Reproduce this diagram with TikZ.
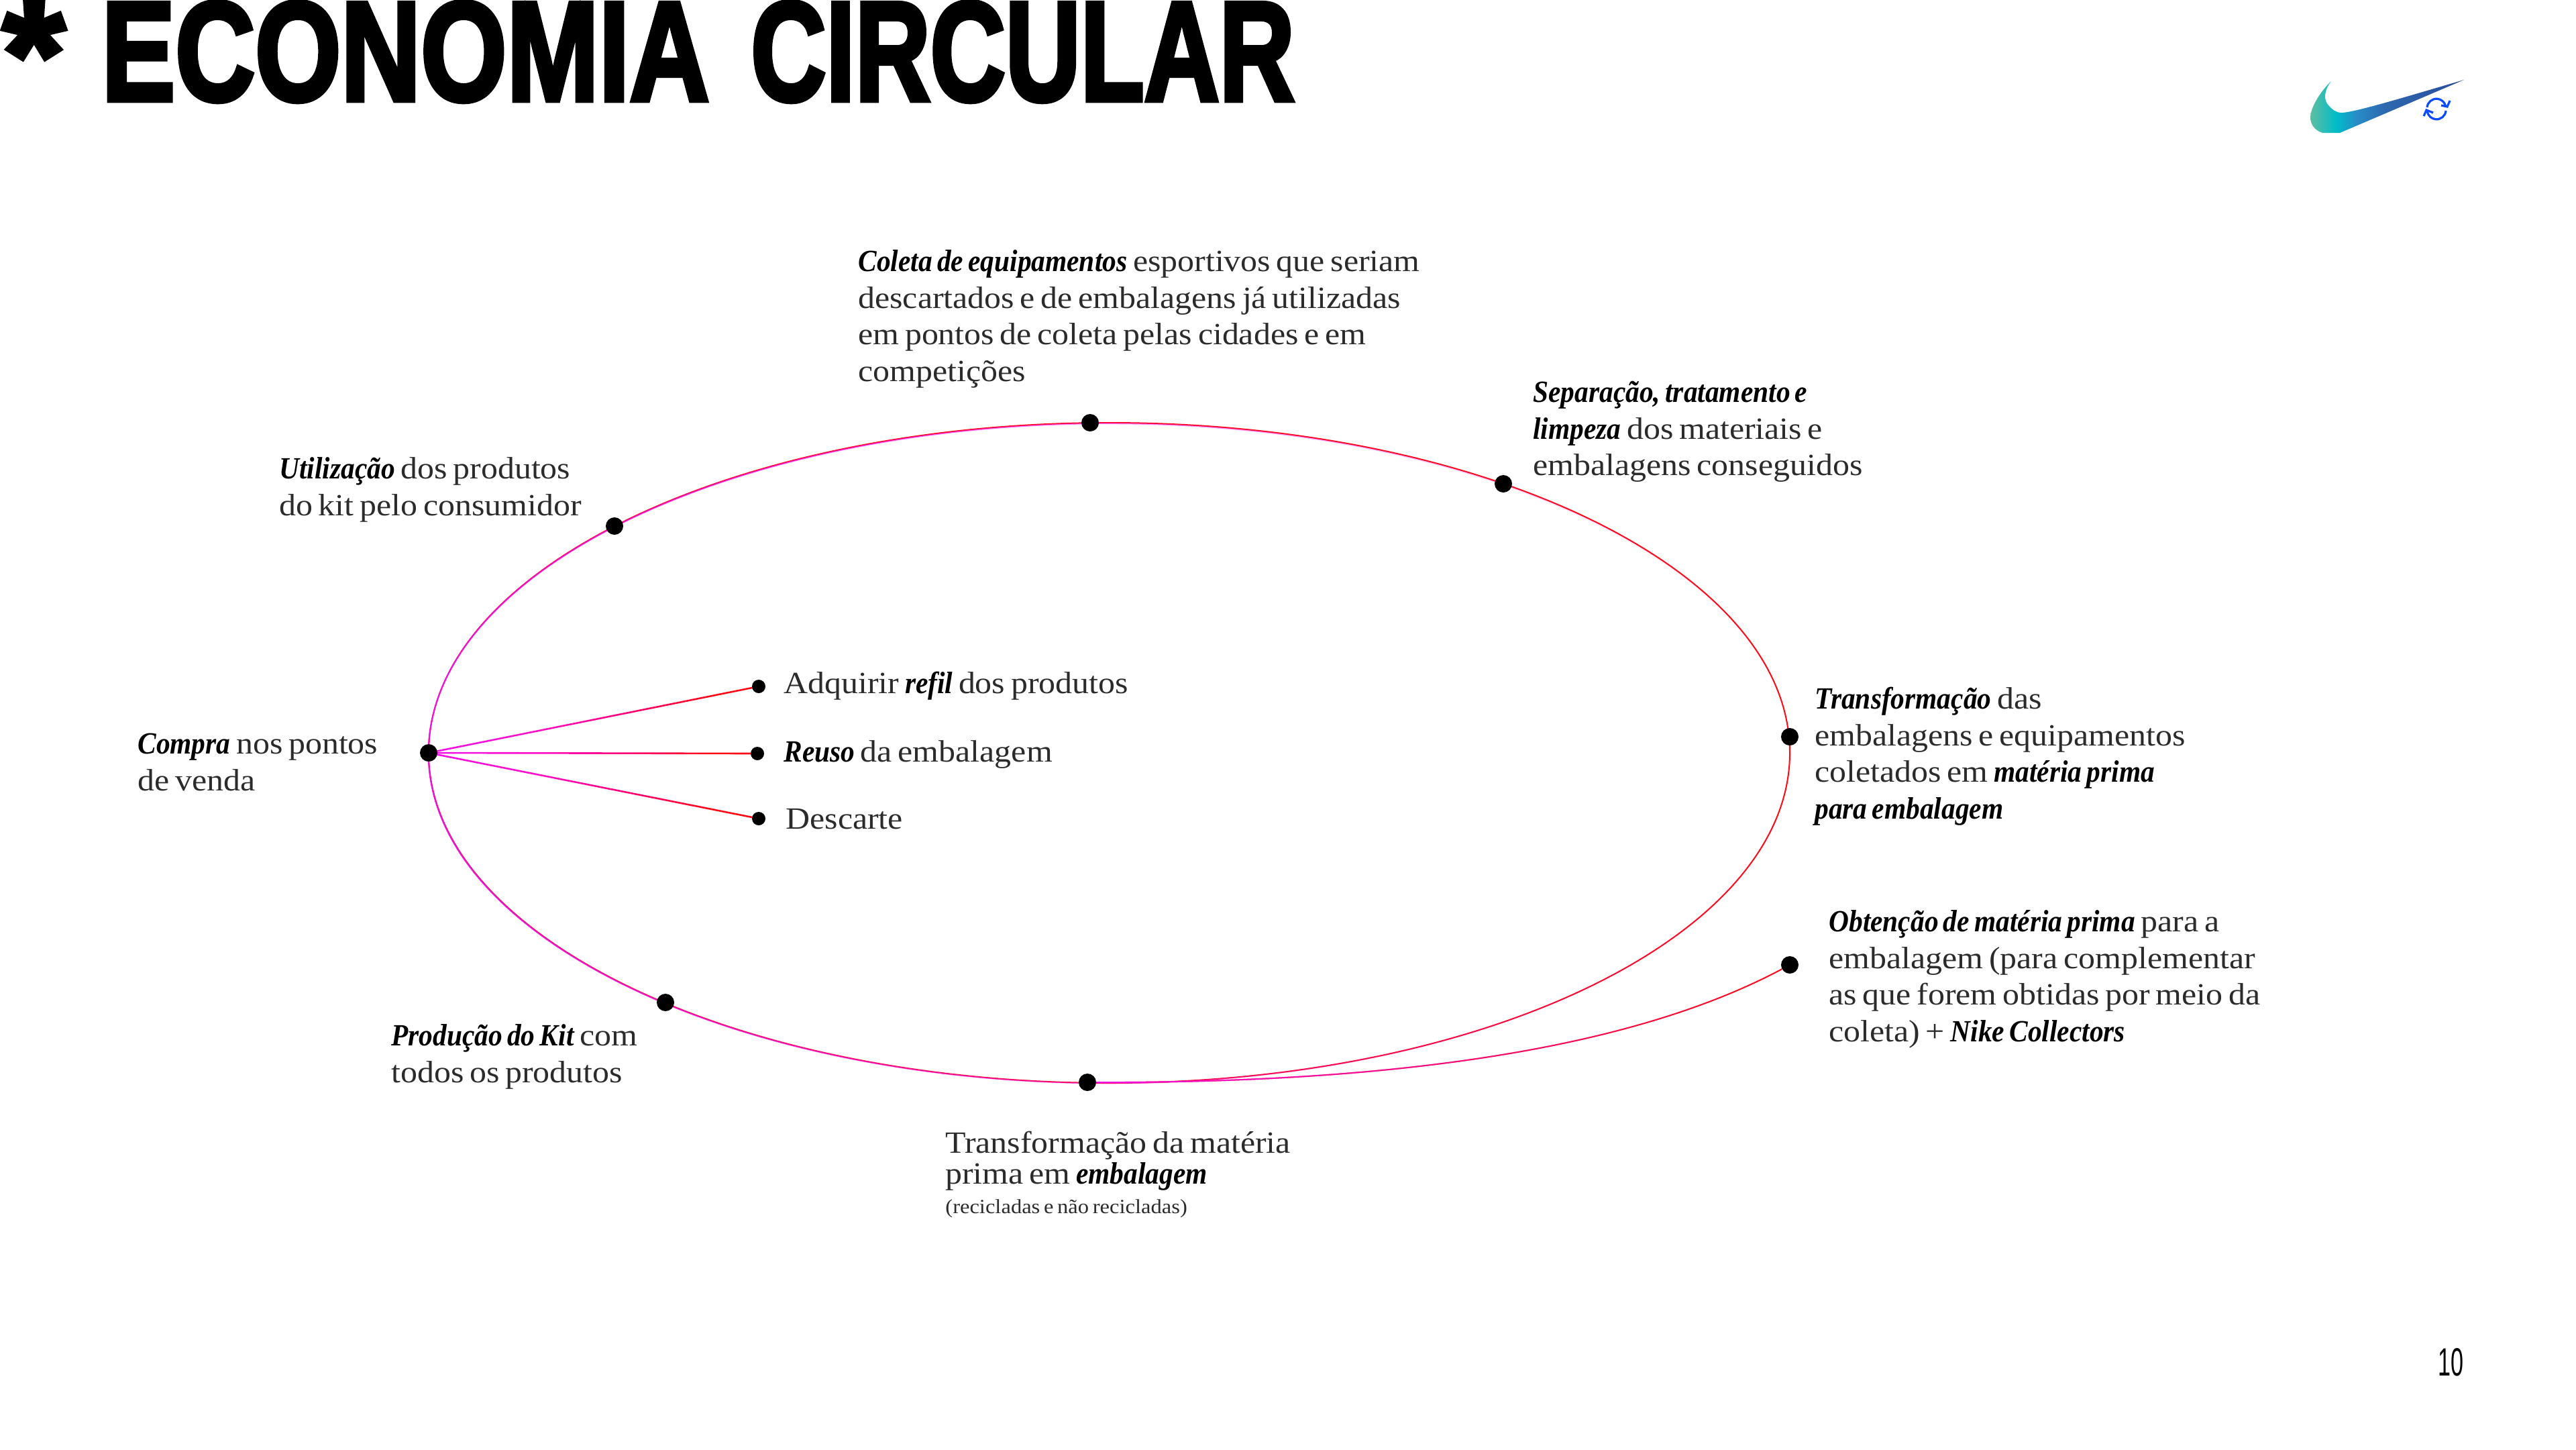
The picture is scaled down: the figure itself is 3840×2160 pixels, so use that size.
\documentclass[tikz,border=0pt]{standalone}
\usepackage{fontspec}
\usetikzlibrary{fadings,backgrounds,calc}
\setmainfont{Liberation Serif}[FakeStretch=1.085,WordSpace=0.7,ItalicFeatures={FakeStretch=0.90},BoldItalicFeatures={FakeStretch=0.90}]
\newfontfamily\titlef{Liberation Sans}[BoldFeatures={FakeBold=3.5}]
\newfontfamily\numf{Liberation Sans}
\definecolor{txtgray}{HTML}{2B2B2B}
\definecolor{gradL}{HTML}{F010E8}
\definecolor{gradR}{HTML}{FF0A14}
\definecolor{lineM}{HTML}{FF10C8}
\definecolor{lineP}{HTML}{FF0070}
\definecolor{iconblue}{HTML}{0A4BFF}
\definecolor{swA}{RGB}{95,190,160}
\definecolor{swB}{RGB}{0,188,200}
\definecolor{swC}{RGB}{40,140,200}
\definecolor{swD}{RGB}{45,105,175}
\definecolor{swE}{RGB}{40,75,155}
\newcommand{\fs}{\rule{0pt}{20.5pt}}
\newcommand{\hi}[1]{\textbf{\textit{\textcolor{black}{#1}}}}
\tikzfading[name=magfade,left color=transparent!0,right color=transparent!100]
\pgfdeclarehorizontalshading{swoosh}{100bp}{
 color(0bp)=(swA);
 color(25bp)=(swA);
 color(33.5bp)=(swB);
 color(40bp)=(swC);
 color(49bp)=(swD);
 color(75bp)=(swE);
 color(100bp)=(swE)}
\pgfdeclarehorizontalshading{rayshade}{100bp}{
 color(0bp)=(gradL);
 color(25bp)=(gradL);
 color(42bp)=(lineM);
 color(56bp)=(lineP);
 color(68bp)=(gradR);
 color(100bp)=(gradR)}
\tikzset{
 x=0.5pt,y=-0.5pt,
 bigdot/.style={circle,fill=black,inner sep=0pt,minimum size=13pt},
 smalldot/.style={circle,fill=black,inner sep=0pt,minimum size=10pt},
 lbl/.style={anchor=north west,inner sep=0pt,align=left,text=txtgray,font=\fontsize{23}{27.3}\selectfont},
 base red/.style={gradR,line width=#1},
 pink over/.style={gradL,line width=#1,path fading=magfade},
 refresh/.style={draw=iconblue,line width=1.6pt},
}
\newcommand{\ray}[1]{%
 \draw[base red=0.4pt] (compra.center) -- (#1);
 \shade[shading=rayshade] ($(compra.center)+(0,-1.3)$) -- ($(#1.center)+(0,-1.3)$) -- ($(#1.center)+(0,1.3)$) -- ($(compra.center)+(0,1.3)$) -- cycle;}
\begin{document}
\begin{tikzpicture}
\useasboundingbox (0,0) rectangle (3840,2160);
% dots
\node[bigdot] (compra) at (639,1122) {};
\node[bigdot] (coleta) at (1625,630) {};
\node[bigdot] (separa) at (2241,721) {};
\node[bigdot] (transf) at (2668,1098) {};
\node[bigdot] (obtem) at (2668,1438) {};
\node[bigdot] (embal) at (1621,1613) {};
\node[bigdot] (prod) at (992,1494) {};
\node[bigdot] (util) at (916,784) {};
\node[smalldot] (refil) at (1131,1023) {};
\node[smalldot] (reuso) at (1129,1123) {};
\node[smalldot] (desc) at (1131,1220) {};
\coordinate (ctr) at (1653.5,1122);
% connectors
\begin{scope}[on background layer]
 \draw[base red=1pt] (ctr) ellipse [x radius=507.25pt,y radius=246pt];
 \draw[pink over=1pt] (ctr) ellipse [x radius=507.25pt,y radius=246pt];
 \ray{refil}
 \ray{reuso}
 \ray{desc}
 \draw[base red=1pt] (embal) .. controls (2050,1614) and (2420,1570) .. (obtem);
 \draw[pink over=1pt] (embal) .. controls (2050,1614) and (2420,1570) .. (obtem);
\end{scope}
% labels
\node[lbl] (t1) at (1279,363) {\fs\hi{Coleta de equipamentos} esportivos que seriam\\descartados e de embalagens já utilizadas\\em pontos de coleta pelas cidades e em\\competições};
\node[lbl] (t2) at (2285,558) {\fs\hi{Separação, tratamento e}\\\hi{limpeza} dos materiais e\\embalagens conseguidos};
\node[lbl] (t3) at (2705,1015) {\fs\hi{Transformação} das\\embalagens e equipamentos\\coletados em \hi{matéria prima}\\\hi{para embalagem}};
\node[lbl] (t4) at (2726,1347) {\fs\hi{Obtenção de matéria prima} para a\\embalagem (para complementar\\as que forem obtidas por meio da\\coleta) + \hi{Nike Collectors}};
\node[lbl,font=\fontsize{23}{23}\selectfont] (t5) at (1409,1677) {\fs Transformação da matéria\\prima em \hi{embalagem}\\[-1pt]{\fontsize{15}{16}\selectfont (recicladas e não recicladas)}};
\node[lbl] (t6) at (583,1517) {\fs\hi{Produção do Kit} com\\todos os produtos};
\node[lbl] (t7) at (205,1082) {\fs\hi{Compra} nos pontos\\de venda};
\node[lbl] (t8) at (416,672) {\fs\hi{Utilização} dos produtos\\do kit pelo consumidor};
\node[lbl] (t9) at (1168,992) {\fs Adquirir \hi{refil} dos produtos};
\node[lbl] (t10) at (1168,1094) {\fs\hi{Reuso} da embalagem};
\node[lbl] (t11) at (1171,1194) {\fs Descarte};
% title
\node[anchor=south west,inner sep=0pt] (title) at (151,152) {\titlef\bfseries\resizebox{453pt}{73.5pt}{ECONOMIA}\hspace{31pt}\resizebox{405pt}{73.5pt}{CIRCULAR}};
\node[anchor=north west,inner sep=0pt] (star) at (4,2) {\resizebox{46pt}{78pt}{\titlef\bfseries *}};
% swoosh logo
\shade[shading=swoosh] (3475,121) .. controls (3464,135) and (3463,150) .. (3472,158)
  .. controls (3478,165) and (3484,168) .. (3490,168)
  .. controls (3510,168) and (3600,140) .. (3673,119)
  -- (3488,198) -- (3462,198) .. controls (3450,194) and (3444,185) .. (3444,175)
  .. controls (3444,160) and (3460,135) .. (3475,121) -- cycle;
% refresh icon
\draw[refresh] (3618,160) arc[start angle=175,end angle=15,radius=7pt];
\draw[refresh] (3652,150) -- (3648,159) -- (3639,157);
\draw[refresh] (3646,165) arc[start angle=-5,end angle=-170,radius=7pt];
\draw[refresh] (3613,173) -- (3617,164) -- (3627,168);
% page number
\node[anchor=center,inner sep=0pt] (page) at (3653,2030) {\resizebox{19pt}{20.5pt}{\numf 10}};
\end{tikzpicture}
\end{document}
